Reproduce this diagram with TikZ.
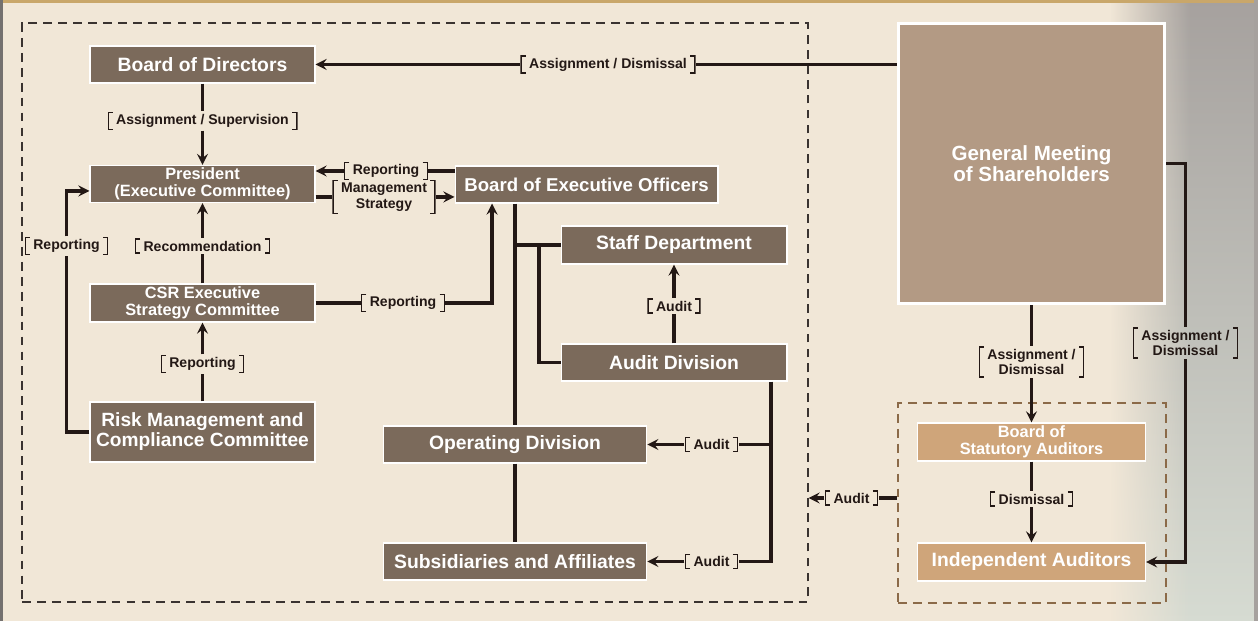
\documentclass[tikz,border=0pt]{standalone}
\usepackage{fontspec}
\setmainfont{Liberation Sans}
\usepackage{tikz}
\usetikzlibrary{arrows,arrows.meta}
\usetikzlibrary{calc, fadings}
\definecolor{paper}{RGB}{241,231,215}
\definecolor{ink}{RGB}{35,24,21}
\definecolor{boxbrown}{RGB}{123,106,91}
\definecolor{tan}{RGB}{207,165,122}
\definecolor{meeting}{RGB}{179,154,132}
\definecolor{framegrey}{RGB}{58,51,48}
\definecolor{auditframe}{RGB}{139,106,72}
\definecolor{gold}{RGB}{201,167,106}
\definecolor{sidegrey}{RGB}{166,161,158}
\definecolor{sidelight}{RGB}{214,219,210}
\colorlet{edge}{sidegrey!70!black}

\begin{document}
\begin{tikzpicture}[x=0.02cm, y=-0.02cm, ink,
    box/.style={draw=white, line width=0.6pt, fill=boxbrown, text=white, align=center, inner sep=0pt,
        minimum width=4.5cm, minimum height=0.74cm, font=\bfseries\fontsize{11}{12}\selectfont},
    twoline/.style={font=\bfseries\fontsize{9.3}{9.9}\selectfont},
    wide/.style={minimum width=5.27cm},
    bracket/.style={align=center, inner xsep=5pt, inner ysep=1.5pt, text=ink, font=\bfseries\fontsize{8}{9}\selectfont,
        path picture={\draw[ink, line width=0.7pt]
            ([xshift=3pt,yshift=-0.4pt]path picture bounding box.north west) -- ++(-2.6pt,0) |- ([xshift=3pt,yshift=0.4pt]path picture bounding box.south west)
            ([xshift=-3pt,yshift=-0.4pt]path picture bounding box.north east) -- ++(2.6pt,0) |- ([xshift=-3pt,yshift=0.4pt]path picture bounding box.south east);}},
    link/.style={line width=1.75pt},
    arrow/.style={link, -stealth}]

    \useasboundingbox (0,0) rectangle (1258,621);
    \shade[top color=sidegrey, bottom color=sidelight] (0,0) rectangle (1258,621);
    \fill[paper] (0,0) rectangle (1110,621);
    \fill[paper, path fading=east] (1110,0) rectangle (1190,621);
    \fill[gold] (0,0) rectangle (1258,3);
    \fill[edge] (0,0) rectangle (3,621);
    \fill[sidegrey] (1254,0) rectangle (1258,621);

    % frames
    \node[draw=framegrey, line width=0.7pt, dash pattern=on 5pt off 3.5pt, inner sep=0pt, minimum width=15.72cm, minimum height=11.58cm] (group) at (415,312.5) {};
    \node[draw=auditframe, line width=0.9pt, dash pattern=on 5pt off 3.5pt, inner sep=0pt, minimum width=5.36cm, minimum height=4cm] (auframe) at (1032,503) {};

    \node[box] (bod) at (202.5,64.5) {Board of Directors};
    \node[box, twoline] (pres) at (202.5,184) {President\\(Executive Committee)};
    \node[box, twoline, minimum height=0.76cm] (csr) at (202.5,303) {CSR Executive\\Strategy Committee};
    \node[box, minimum height=1.2cm, font=\bfseries\fontsize{10.9}{11.4}\selectfont] (risk) at (202.5,432) {Risk Management and\\Compliance Committee};
    \node[box, minimum width=5.26cm, font=\bfseries\fontsize{10.6}{12}\selectfont] (beo) at (586.5,184.5) {Board of Executive Officers};
    \node[box, minimum width=4.52cm, minimum height=0.76cm] (staff) at (674,245) {Staff Department};
    \node[box, minimum width=4.52cm] (auddiv) at (674,362.5) {Audit Division};
    \node[box, wide] (opdiv) at (515,444.5) {Operating Division};
    \node[box, wide] (subs) at (515,561.5) {Subsidiaries and Affiliates};
    \node[box, fill=meeting, line width=1.7pt, minimum width=5.34cm, minimum height=5.62cm, font=\bfseries\fontsize{11.7}{12}\selectfont] (gm) at (1031.5,163.5) {General Meeting\\of Shareholders};
    \node[box, twoline, fill=tan, minimum width=4.56cm, minimum height=0.76cm] (bsa) at (1031.5,442) {Board of\\Statutory Auditors};
    \node[box, fill=tan, minimum width=4.56cm, minimum height=0.76cm] (indep) at (1031.5,562) {Independent Auditors};

    \node[bracket] (lassign1) at (608,64.5) {Assignment / Dismissal};
    \node[bracket] (lsup) at (202.5,121) {Assignment / Supervision};
    \node[bracket] (lrep1) at (386,171) {Reporting};
    \node[bracket] (lms) at (384,197) {Management\\Strategy};
    \node[bracket] (lrec) at (202.5,246) {Recommendation};
    \node[bracket] (lrep2) at (66.5,246) {Reporting};
    \node[bracket] (lrep3) at (403,303) {Reporting};
    \node[bracket] (lrep4) at (202.5,364) {Reporting};
    \node[bracket] (laud1) at (674,306) {Audit};
    \node[bracket] (laud2) at (711.5,444.5) {Audit};
    \node[bracket] (laud3) at (711.5,561.5) {Audit};
    \node[bracket] (laud4) at (851.5,498) {Audit};
    \node[bracket] (lassign2) at (1031.5,362) {Assignment /\\Dismissal};
    \node[bracket] (ldis) at (1031.5,499) {Dismissal};
    \node[bracket] (lassign3) at (1185.5,343) {Assignment /\\Dismissal};

    \draw[link] (gm.west |- bod) -- (lassign1);
    \draw[arrow] (lassign1) -- (bod.east);
    \draw[link] (bod) -- (lsup);
    \draw[arrow] (lsup) -- (pres.north);
    \draw[link] (beo.west |- lrep1) -- (lrep1);
    \draw[arrow] (lrep1) -- (pres.east |- lrep1);
    \draw[link] (pres.east |- lms) -- (lms);
    \draw[arrow] (lms) -- (beo.west |- lms);
    \draw[link] (csr) -- (lrec);
    \draw[arrow] (lrec) -- (pres.south);
    \draw[link] (risk) -- (lrep4);
    \draw[arrow] (lrep4) -- (csr.south);
    \draw[link] (risk.west) -| (lrep2);
    \draw[arrow] (lrep2) |- ([yshift=-0.14cm]pres.west);
    \draw[link] (csr.east) -- (lrep3);
    \draw[arrow] (lrep3) -| ([xshift=-1.89cm]beo.south);

    \draw[link] (beo.south -| opdiv.north) -- (opdiv.north);
    \draw[link] (staff.west -| opdiv.north) -- (staff.west);
    \coordinate (split) at (539,245);
    \draw[link] (split) |- (auddiv.west);
    \draw[link] (opdiv) -- (subs);
    \draw[link] (auddiv.north) -- (laud1);
    \draw[arrow] (laud1) -- (staff.south);

    \coordinate (abend) at (771,561.5);
    \draw[link] (auddiv.south -| abend) -- (abend) -- (laud3);
    \draw[arrow] (laud3) -- (subs.east);
    \draw[link] (laud2.east -| abend) -- (laud2);
    \draw[arrow] (laud2) -- (opdiv.east);

    \draw[link] (auframe.west |- laud4) -- (laud4);
    \draw[arrow] (laud4) -- (group.east |- laud4);
    \draw[link] (gm.south -| lassign2) -- (lassign2);
    \draw[arrow] (lassign2) -- (bsa.north);
    \draw[link] (bsa) -- (ldis);
    \draw[arrow] (ldis) -- (indep.north);
    \draw[link] (gm.east) -| (lassign3);
    \draw[arrow] (lassign3) |- (indep.east);

\end{tikzpicture}
\end{document}
